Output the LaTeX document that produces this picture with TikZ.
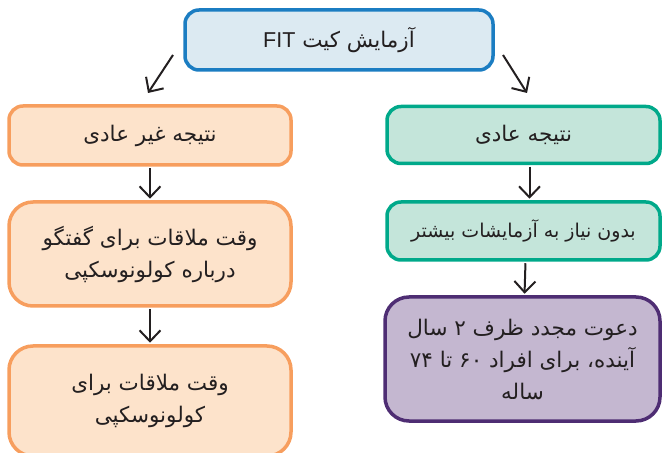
\documentclass[tikz,border=0pt]{standalone}
\usepackage{fontspec}
\usepackage{tikz}
\usetikzlibrary{arrows.meta}
\setmainfont{Liberation Sans}
\newfontfamily\arabicfont[Script=Arabic]{DejaVu Sans}
\TeXXeTstate=1
\newcommand{\fa}[1]{{\arabicfont\beginR #1\endR}}

\definecolor{fitblue}{HTML}{1B7DC2}
\definecolor{fitfill}{HTML}{DCEAF2}
\definecolor{orangeline}{HTML}{F79E5E}
\definecolor{orangefill}{HTML}{FDE3CB}
\definecolor{tealline}{HTML}{00A98A}
\definecolor{tealfill}{HTML}{C4E5DA}
\definecolor{purpleline}{HTML}{4E2D73}
\definecolor{purplefill}{HTML}{C4B7D0}
\definecolor{txt}{HTML}{231F20}

\begin{document}
\begin{tikzpicture}[x=1pt, y=1pt,
    box/.style = {draw, line width=3.5pt, rounded corners=14pt, align=center,
        text=txt, font=\fontsize{21.5}{32}\selectfont, inner sep=0pt},
    tall/.style = {box, rounded corners=24pt},
    arr/.style = {-{Straight Barb[length=11pt, width=21pt, line width=2pt]}, line width=2pt, draw=txt}]
    \useasboundingbox (0,0) rectangle (663,452);
    \clip (0,0) rectangle (663,452);
    \node[box, draw=fitblue, fill=fitfill, minimum width=308, minimum height=60] (fit) at (339,412)
        {\fa{آزمایش کیت \beginL{\normalfont FIT}\endL}};
    \node[box, draw=orangeline, fill=orangefill, minimum width=282, minimum height=59] (abn) at (150,316.5)
        {\fa{نتیجه غیر عادی}};
    \node[tall, draw=orangeline, fill=orangefill, minimum width=282, minimum height=104] (talk) at (150,198)
        {\fa{وقت ملاقات برای گفتگو}\\\fa{درباره کولونوسکپی}};
    \node[tall, draw=orangeline, fill=orangefill, minimum width=282, minimum height=110] (colo) at (150,51)
        {\fa{وقت ملاقات برای}\\\fa{کولونوسکپی}};
    \node[box, draw=tealline, fill=tealfill, minimum width=273, minimum height=57] (norm) at (523.5,317)
        {\fa{نتیجه عادی}};
    \node[box, draw=tealline, fill=tealfill, minimum width=273, minimum height=58,
        font=\fontsize{19}{30}\selectfont] (nomore) at (523.5,221)
        {\fa{بدون نیاز به آزمایشات بیشتر}};
    \node[tall, draw=purpleline, fill=purplefill, minimum width=275, minimum height=124] (recall) at (522.5,93)
        {\fa{دعوت مجدد ظرف ۲ سال}\\\fa{آینده، برای افراد ۶۰ تا ۷۴}\\\fa{ساله}};

    % free ends of the two slanted arrows
    \coordinate (fitL) at (173,397);
    \coordinate (abnL) at (148,359);
    \coordinate (fitR) at (503,397);
    \coordinate (normR) at (527,359);

    \draw[arr] (fitL) -- (abnL);
    \draw[arr] (fitR) -- (normR);
    \draw[arr, shorten <=1.5pt, shorten >=1.5pt] (abn) -- (talk);
    \draw[arr, shorten <=1.5pt, shorten >=1.5pt] (talk) -- (colo);
    \draw[arr, shorten <=1.5pt, shorten >=1.5pt] ([xshift=6pt]norm.south) -- ([xshift=6pt]nomore.north);
    \draw[arr, shorten <=1.5pt, shorten >=1.5pt] ([xshift=2pt]nomore.south) -- ([xshift=2pt]recall.north);
\end{tikzpicture}
\end{document}
